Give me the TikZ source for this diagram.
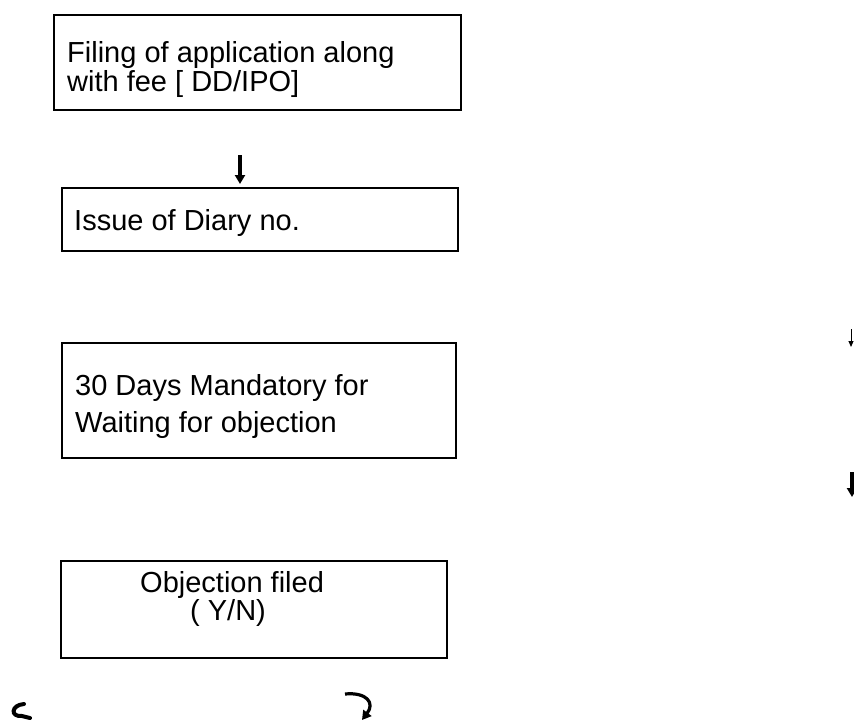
\documentclass[tikz,border=0pt]{standalone}
\usepackage{fontspec}
\setmainfont{Liberation Sans}
\usetikzlibrary{arrows.meta}
\begin{document}
\begin{tikzpicture}[x=1pt,y=-1pt,
  box/.style={draw=black, line width=1.8pt, rectangle, inner sep=0pt, anchor=north west},
  txt/.style={font=\fontsize{29}{30}\selectfont, inner sep=0pt, anchor=base west},
  flowarrow/.style={line width=3.4pt, -{Triangle[length=9pt,width=10pt]}},
  thinarrow/.style={line width=1pt, -{Triangle[length=6pt,width=5pt]}},
  curvy/.style={line width=4pt, line cap=round}
]
\useasboundingbox (0,0) rectangle (854,720);
\fill[white] (0,0) rectangle (854,720);

% boxes
\node[box, minimum width=407pt, minimum height=95pt] (b1) at (53,14) {};
\node[box, minimum width=396pt, minimum height=63pt] (b2) at (61,187) {};
\node[box, minimum width=394pt, minimum height=115pt] (b3) at (61,342) {};
\node[box, minimum width=386pt, minimum height=97pt] (b4) at (60,560) {};

% texts
\node[txt] (t1a) at (67,62) {Filing of application along};
\node[txt] (t1b) at (67,91) {with fee [ DD/IPO]};
\node[txt] (t2) at (74,230) {Issue of Diary no.};
\node[txt] (t3a) at (75,395) {30 Days Mandatory for};
\node[txt] (t3b) at (75,432) {Waiting for objection};
\node[txt] (t4a) at (140,592) {Objection filed};
\node[txt] (t4b) at (190,620) {( Y/N)};

% arrows
\coordinate (a1s) at (240,155);
\draw[flowarrow, shorten >=3pt] (a1s) -- (a1s |- b2.north);

\coordinate (r1s) at (851,329);
\coordinate (r1e) at (851,347);
\draw[thinarrow] (r1s) -- (r1e);

\coordinate (r2s) at (852,472);
\coordinate (r2e) at (852,497);
\draw[line width=3.6pt, -{Triangle[length=9pt,width=10pt]}] (r2s) -- (r2e);

\coordinate (c1s) at (24,704);
\coordinate (c1e) at (30,718);
\draw[curvy] (c1s) .. controls (11,705) and (10,717) .. (22,716) -- (c1e);

\coordinate (c2s) at (345,694);
\coordinate (c2e) at (362,720);
\draw[line width=3.2pt, -{Triangle[length=9pt,width=10pt]}] (c2s) .. controls (367,692) and (375,703) .. (c2e);
\end{tikzpicture}
\end{document}
